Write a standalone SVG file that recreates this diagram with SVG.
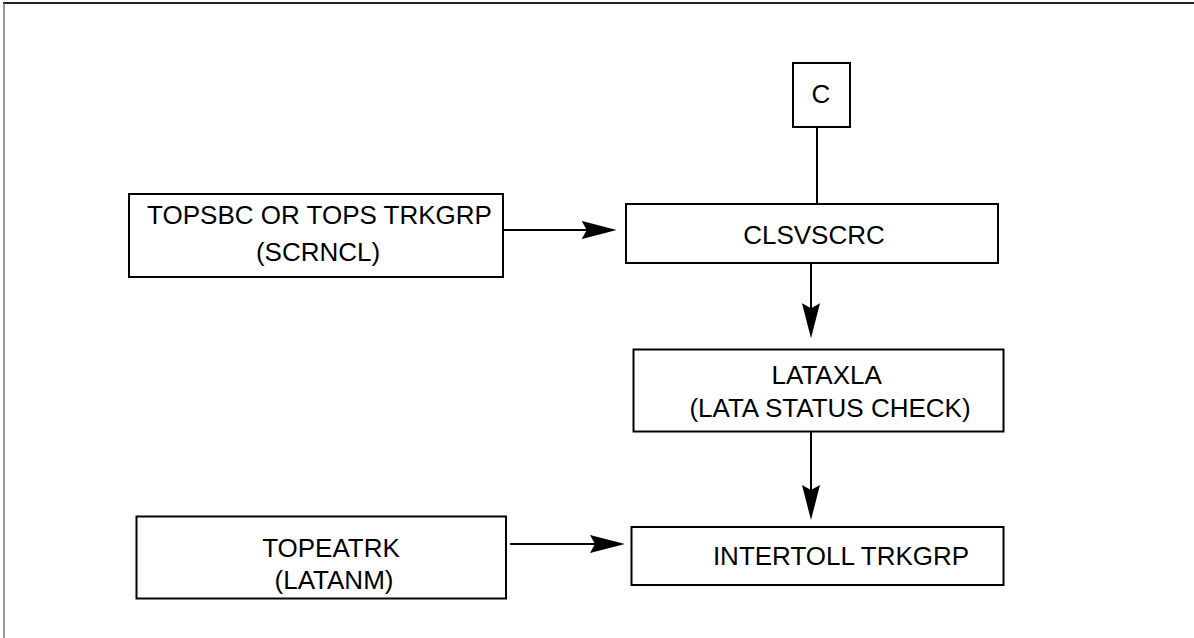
<svg xmlns="http://www.w3.org/2000/svg" width="1194" height="638" viewBox="0 0 1194 638">
<style>
.box{fill:#fff;stroke:#000;stroke-width:2}
.lbl{font-family:"Liberation Sans",Arial,sans-serif;font-size:26px;fill:#000;text-anchor:middle}
.conn{stroke:#000;stroke-width:2;fill:none}
</style>
<defs>
<marker id="arr" markerUnits="userSpaceOnUse" viewBox="0 0 35 18" refX="7" refY="9" markerWidth="35" markerHeight="18" orient="auto">
<path d="M0,0 L35,9 L0,18 L5,9 Z" fill="#000"/>
</marker>
</defs>
<rect width="1194" height="638" fill="#fff"/>
<line x1="3" y1="3" x2="1194" y2="3" stroke="#222" stroke-width="2"/>
<line x1="4" y1="3" x2="4" y2="638" stroke="#777" stroke-width="1.5"/>
<g id="connectors">
<line class="conn" x1="817" y1="127" x2="817" y2="204"/>
<line class="conn" x1="503" y1="230" x2="588.7" y2="230" marker-end="url(#arr)"/>
<line class="conn" x1="811" y1="263" x2="811" y2="310.3" marker-end="url(#arr)"/>
<line class="conn" x1="811" y1="432" x2="811" y2="492" marker-end="url(#arr)"/>
<line class="conn" x1="510" y1="544" x2="597" y2="544" marker-end="url(#arr)"/>
</g>
<g id="node-c">
<rect class="box" x="793" y="63" width="57" height="64"/>
<text class="lbl" x="821" y="103">C</text>
</g>
<g id="node-topsbc">
<rect class="box" x="129" y="194" width="374" height="83"/>
<text class="lbl" x="319.5" y="224">TOPSBC OR TOPS TRKGRP</text>
<text class="lbl" x="318" y="261">(SCRNCL)</text>
</g>
<g id="node-clsvscrc">
<rect class="box" x="626" y="204" width="372" height="59"/>
<text class="lbl" x="814" y="243.5">CLSVSCRC</text>
</g>
<g id="node-lataxla">
<rect class="box" x="633.5" y="349.5" width="370" height="82"/>
<text class="lbl" x="826.7" y="383.5">LATAXLA</text>
<text class="lbl" x="830" y="417">(LATA STATUS CHECK)</text>
</g>
<g id="node-intertoll">
<rect class="box" x="631.5" y="527" width="372" height="58"/>
<text class="lbl" x="841" y="565">INTERTOLL TRKGRP</text>
</g>
<g id="node-topeatrk">
<rect class="box" x="136.5" y="516.5" width="369.5" height="82"/>
<text class="lbl" x="331" y="556.5">TOPEATRK</text>
<text class="lbl" x="334" y="589">(LATANM)</text>
</g>
</svg>
